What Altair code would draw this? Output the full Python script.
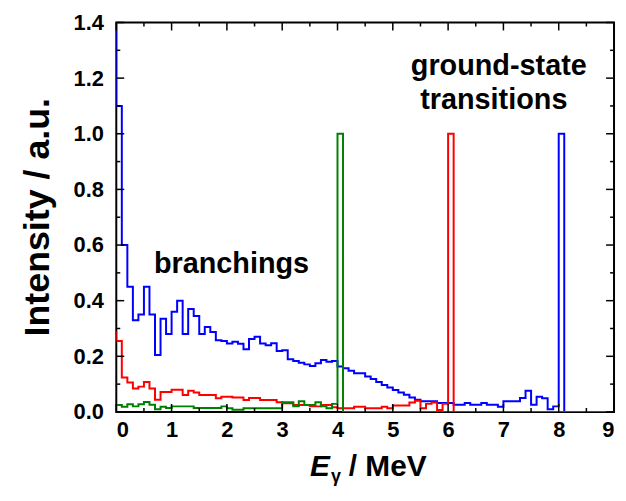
import altair as alt
import pandas as pd

BIN = 0.1  # MeV, histogram bin width; bins start at 0.0, 0.1, 0.2, ...

# Blue spectrum (ground-state transition at 8.0 MeV), bins 0.0 .. 8.0
blue_vals = [
    1.10, 0.60, 0.45, 0.33, 0.35, 0.45, 0.35, 0.205, 0.335, 0.28,
    0.36, 0.40, 0.28, 0.37, 0.345, 0.28, 0.305, 0.287, 0.258, 0.255,
    0.246, 0.252, 0.245, 0.225, 0.262, 0.27, 0.246, 0.240, 0.247, 0.219,
    0.222, 0.189, 0.183, 0.177, 0.171, 0.165, 0.175, 0.187, 0.180, 0.183,
    0.163, 0.157, 0.148, 0.139, 0.139, 0.127, 0.118, 0.108, 0.097, 0.088,
    0.079, 0.070, 0.062, 0.052, 0.044, 0.038, 0.038, 0.038, 0.032, 0.032,
    0.032, 0.026, 0.026, 0.032, 0.026, 0.026, 0.032, 0.026, 0.026, 0.019,
    0.038, 0.038, 0.038, 0.050, 0.076, 0.026, 0.055, 0.049, 0.010, 0.020,
    1.00,
]
# Red spectrum (ground-state transition at 6.0 MeV), bins 0.0 .. 8.9
red_vals = [
    0.255, 0.124, 0.106, 0.084, 0.091, 0.108, 0.084, 0.044, 0.072, 0.072,
    0.080, 0.080, 0.061, 0.076, 0.070, 0.061, 0.061, 0.061, 0.049, 0.055,
    0.055, 0.052, 0.052, 0.043, 0.050, 0.050, 0.043, 0.043, 0.043, 0.035,
    0.031, 0.031, 0.025, 0.025, 0.025, 0.020, 0.020, 0.025, 0.025, 0.017,
    0.013, 0.013, 0.013, 0.019, 0.019, 0.013, 0.013, 0.013, 0.019, 0.013,
    0.023, 0.023, 0.023, 0.034, 0.040, 0.013, 0.029, 0.034, 0.007, 0.029,
    1.00,
] + [0.0] * 29
# Green spectrum (ground-state transition at 4.0 MeV), bins 0.0 .. 6.0
green_vals = [
    0.025, 0.019, 0.028, 0.020, 0.028, 0.036, 0.026, 0.010, 0.019, 0.014,
    0.020, 0.020, 0.020, 0.020, 0.014, 0.014, 0.014, 0.014, 0.014, 0.020,
    0.013, 0.008, 0.008, 0.013, 0.013, 0.013, 0.013, 0.013, 0.013, 0.013,
    0.035, 0.035, 0.020, 0.038, 0.025, 0.025, 0.035, 0.020, 0.013, 0.029,
    1.00,
] + [0.0] * 20

# height of the (off-scale) bin just below 0 MeV, seen as a vertical at E = 0
lead_in = {"blue": 1.6, "red": 0.29, "green": None}

series = [("blue", blue_vals, "#0000ff"), ("red", red_vals, "#ff0000"),
          ("green", green_vals, "#008000")]

x_major = [0, 1, 2, 3, 4, 5, 6, 7, 8, 9]
x_minor = [0.5, 1.5, 2.5, 3.5, 4.5, 5.5, 6.5, 7.5, 8.5]
y_major = [0.0, 0.2, 0.4, 0.6, 0.8, 1.0, 1.2, 1.4]
y_minor = [0.1, 0.3, 0.5, 0.7, 0.9, 1.1, 1.3]

W, H = 501, 392
FONT = "Liberation Sans"

xs = alt.Scale(domain=[0, 9], nice=False)
ys = alt.Scale(domain=[0, 1.4], nice=False)
x_axis = alt.Axis(values=x_major, title=None, labelPadding=8)
y_axis = alt.Axis(values=y_major, format=".1f", title=None, labelPadding=13)


def step_rows(name, vals):
    rows, k = [], 0
    if lead_in[name] is not None:
        rows.append({"E": 0.0, "I": lead_in[name], "k": k}); k += 1
    for i, v in enumerate(vals):
        s = round(i * BIN, 3)
        rows.append({"E": s, "I": v, "k": k}); k += 1
        rows.append({"E": round(s + BIN, 3), "I": v, "k": k}); k += 1
    rows.append({"E": round(len(vals) * BIN, 3), "I": 0.0, "k": k})
    return pd.DataFrame(rows)


layers = []
for name, vals, col in series:
    df = step_rows(name, vals)
    layers.append(alt.Chart(df).mark_line(strokeWidth=2, clip=True).encode(
        x=alt.X("E:Q", scale=xs, axis=x_axis),
        y=alt.Y("I:Q", scale=ys, axis=y_axis),
        order="k:Q",
        color=alt.value(col),
    ))


def xticks(vals, length, side):
    y0 = H if side == "bottom" else 0
    y1 = H - length if side == "bottom" else length
    return alt.Chart(pd.DataFrame({"E": vals})).mark_rule(color="black", strokeWidth=1.5).encode(
        x=alt.X("E:Q", scale=xs, axis=x_axis), y=alt.value(y0), y2=alt.value(y1))


def yticks(vals, length, side):
    x0 = 0 if side == "left" else W
    x1 = length if side == "left" else W - length
    return alt.Chart(pd.DataFrame({"I": vals})).mark_rule(color="black", strokeWidth=1.5).encode(
        y=alt.Y("I:Q", scale=ys, axis=y_axis), x=alt.value(x0), x2=alt.value(x1))


for side in ("bottom", "top"):
    layers.append(xticks(x_major, 8, side))
    layers.append(xticks(x_minor, 4, side))
for side in ("left", "right"):
    layers.append(yticks(y_major, 8, side))
    layers.append(yticks(y_minor, 4, side))


def label(text, x, y, size=29, align="center", style="normal", angle=0, baseline="alphabetic"):
    return alt.Chart(pd.DataFrame({"t": [text]})).mark_text(
        font=FONT, fontSize=size, fontWeight="bold", fontStyle=style, color="black",
        align=align, baseline=baseline, angle=angle,
    ).encode(x=alt.value(x), y=alt.value(y), text="t:N")


layers += [
    label("branchings", 116, 252),
    label("ground-state", 385, 53),
    label("transitions", 380, 87),
    label("Intensity / a.u.", -79, 196, size=36, angle=270, baseline="middle"),
    label("E", 195, 456, size=30, align="left", style="italic"),
    label("γ", 216, 463, size=18, align="left"),
    label("/ MeV", 234, 456, size=30, align="left"),
]

chart = alt.layer(*layers).properties(
    width=W, height=H,
    autosize=alt.AutoSizeParams(type="none"),
    padding={"left": 109, "top": 13, "right": 4, "bottom": 79},
).configure_view(stroke="black", strokeWidth=2).configure_axis(
    domain=False, ticks=False, grid=False,
    labelFont=FONT, labelFontSize=22, labelFontWeight="bold", labelColor="black",
)

chart.save("out.html", embed_options={"renderer": "svg", "actions": False})
